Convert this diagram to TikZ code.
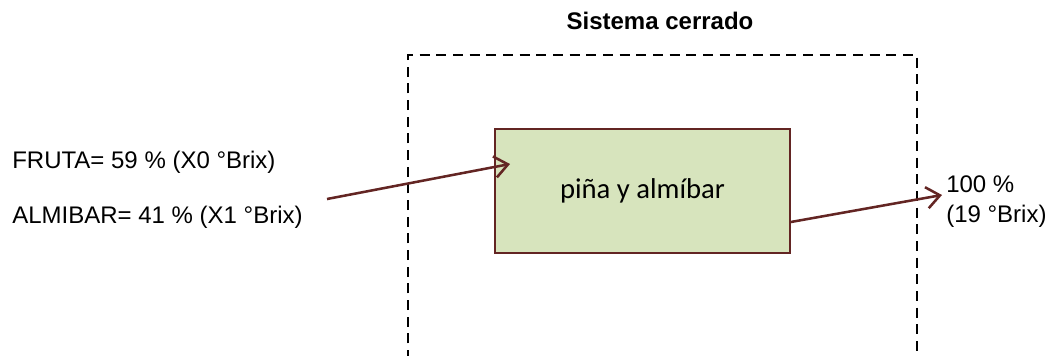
\documentclass[tikz,border=0pt]{standalone}
\usepackage{fontspec}
\setmainfont{Liberation Sans}
\newfontfamily\calibri{Carlito}
\usetikzlibrary{arrows.meta}
\definecolor{granate}{RGB}{99,37,35}
\definecolor{verdeclaro}{RGB}{215,228,189}
\tikzset{
  texto/.style={anchor=base west,inner sep=0pt,font=\fontsize{18}{21}\selectfont},
  flujo/.style={draw=granate,line width=1.9pt,-{Straight Barb[length=10pt,width=16pt,line width=1.9pt]}},
}
\begin{document}
\begin{tikzpicture}[x=0.75pt,y=-0.75pt]
        \useasboundingbox (0,0) rectangle (1060,355);
        \node[anchor=base,inner sep=0pt,font=\fontsize{18}{21}\selectfont\bfseries] (T) at (660,29) {Sistema cerrado};
        \draw[line width=1.5pt,dash pattern=on 7.5pt off 5pt] (408,360) -- (408,55) -- (917,55) -- (917,360);
        \node[shape=rectangle,draw=granate,line width=1.5pt,fill=verdeclaro,minimum width=221pt,minimum height=93pt,font=\calibri\fontsize{21.5}{25}\selectfont] (M) at (642.5,191) {piña y almíbar};
        \node[texto] (F) at (12,168) {FRUTA= 59 \% (X0 °Brix)};
        \node[texto] (A) at (12,223) {ALMIBAR= 41 \% (X1 °Brix)};
        \node[texto] (S1) at (946,192) {100 \%};
        \node[texto] (S2) at (946,222) {(19 °Brix)};
        \coordinate (E0) at (327,199);
        \coordinate (E1) at (510,164);
        \coordinate (S0) at (M.east |- 0,222);
        \coordinate (S3) at (942,195);
        \path (E0) edge[flujo] (E1);
        \path (S0) edge[flujo] (S3);
    \end{tikzpicture}
\end{document}
